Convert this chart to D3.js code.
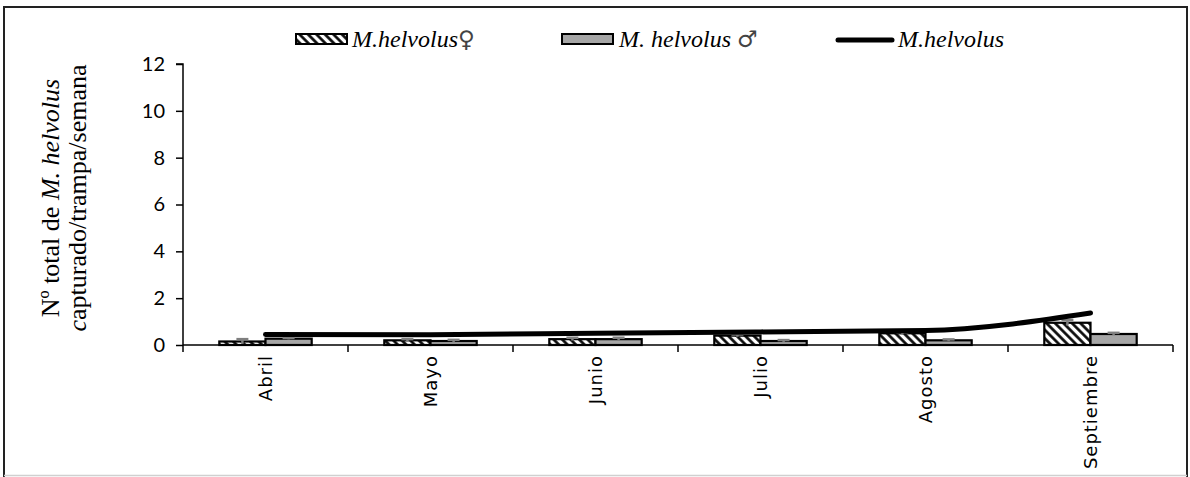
<!DOCTYPE html>
<html>
<head>
<meta charset="utf-8">
<script src="https://cdn.jsdelivr.net/npm/d3@7"></script>
<style>
  html, body { margin: 0; padding: 0; background: #fff; }
  svg { display: block; }
</style>
</head>
<body>
<svg id="chart" width="1190" height="477"></svg>
<script>
// ---- data ----
const categories = ["Abril", "Mayo", "Junio", "Julio", "Agosto", "Septiembre"];
const femaleValues = [0.15, 0.2, 0.25, 0.4, 0.5, 0.95];
const maleValues = [0.27, 0.17, 0.25, 0.17, 0.2, 0.47];
const femaleErrors = [0.1, 0.05, 0.06, 0.05, 0.05, 0.12];
const maleErrors = [0.03, 0.05, 0.06, 0.04, 0.04, 0.05];
const totalValues = [0.45, 0.44, 0.5, 0.56, 0.62, 1.37];
const yTicks = [0, 2, 4, 6, 8, 10, 12];
const seriesNames = ["M.helvolus\u2640", "M. helvolus \u2642", "M.helvolus"];

const svg = d3.select("#chart");

// frame
svg.append("path").attr("d", "M4,477 L4,7 L1187,7 L1187,477")
  .attr("fill", "none").attr("stroke", "#222").attr("stroke-width", 2);
svg.append("line").attr("x1", 4).attr("x2", 1187).attr("y1", 475.5).attr("y2", 475.5)
  .attr("stroke", "#d0d0d0").attr("stroke-width", 1.5);

// hatch pattern
const defs = svg.append("defs");
defs.append("pattern").attr("id", "hatch").attr("patternUnits", "userSpaceOnUse")
  .attr("width", 6).attr("height", 6).attr("patternTransform", "rotate(-45)")
  .call(p => {
    p.append("rect").attr("width", 6).attr("height", 6).attr("fill", "#fff");
    p.append("line").attr("x1", 1.5).attr("x2", 1.5).attr("y1", 0).attr("y2", 6)
      .attr("stroke", "#000").attr("stroke-width", 2.6);
  });

const pLeft = 183, pRight = 1173, pTop = 64, pBottom = 345;

const x = d3.scaleBand().domain(categories).range([pLeft, pRight])
  .paddingInner(0.44).paddingOuter(0.22);
const xSub = d3.scaleBand().domain(["f", "m"]).range([0, x.bandwidth()]);
const y = d3.scaleLinear().domain([0, 12]).range([pBottom, pTop]);

// y axis
const yAxis = svg.append("g").attr("transform", `translate(${pLeft},0)`)
  .call(d3.axisLeft(y).tickValues(yTicks).tickSize(7).tickPadding(11));
yAxis.selectAll("path, line").attr("stroke", "#000").attr("stroke-width", 1.5);
yAxis.select(".domain").attr("d", `M-7,${pTop}H0V${pBottom}`);
yAxis.selectAll("text").attr("font-family", "Lato, 'Open Sans', sans-serif")
  .attr("font-size", 20).attr("fill", "#000");

// x axis (labels at centers, ticks at boundaries)
const step = x.step();
const boundaries = categories.map(c => x(c) - (step - x.bandwidth()) / 2)
  .concat([x(categories[categories.length - 1]) + x.bandwidth() + (step - x.bandwidth()) / 2]);
const xg = svg.append("g");
xg.append("line").attr("x1", pLeft).attr("x2", pRight).attr("y1", pBottom).attr("y2", pBottom)
  .attr("stroke", "#000").attr("stroke-width", 1.5);
xg.selectAll("line.tk").data(boundaries).join("line").attr("class", "tk")
  .attr("x1", d => d).attr("x2", d => d).attr("y1", pBottom).attr("y2", pBottom + 7)
  .attr("stroke", "#000").attr("stroke-width", 1.5);
xg.selectAll("text").data(categories).join("text")
  .attr("transform", d => `translate(${x(d) + x.bandwidth() / 2},${pBottom + 10}) rotate(-90)`)
  .attr("text-anchor", "end").attr("dy", "0.35em")
  .attr("font-family", "'DejaVu Sans', sans-serif").attr("font-size", 18)
  .attr("letter-spacing", 1).attr("fill", "#000")
  .text(d => d);

// bars
const barData = categories.map((c, i) => [
  { c, k: "f", v: femaleValues[i], e: femaleErrors[i] },
  { c, k: "m", v: maleValues[i], e: maleErrors[i] }
]).flat();

svg.append("g").selectAll("rect").data(barData).join("rect")
  .attr("x", d => x(d.c) + xSub(d.k))
  .attr("width", xSub.bandwidth())
  .attr("y", d => y(d.v))
  .attr("height", d => y(0) - y(d.v))
  .attr("fill", d => d.k === "f" ? "url(#hatch)" : "#a6a6a6")
  .attr("stroke", "#000").attr("stroke-width", 2.2);

// error bars
const eg = svg.append("g").attr("stroke", "#7f7f7f").attr("stroke-width", 2.5);
eg.selectAll("line.v").data(barData).join("line").attr("class", "v")
  .attr("x1", d => x(d.c) + xSub(d.k) + xSub.bandwidth() / 2)
  .attr("x2", d => x(d.c) + xSub(d.k) + xSub.bandwidth() / 2)
  .attr("y1", d => y(Math.max(0, d.v - d.e)))
  .attr("y2", d => y(d.v + d.e));
eg.selectAll("line.c").data(barData).join("line").attr("class", "c")
  .attr("x1", d => x(d.c) + xSub(d.k) + xSub.bandwidth() / 2 - 6)
  .attr("x2", d => x(d.c) + xSub(d.k) + xSub.bandwidth() / 2 + 6)
  .attr("y1", d => y(d.v + d.e))
  .attr("y2", d => y(d.v + d.e));

// total line
const line = d3.line()
  .x((d, i) => x(categories[i]) + x.bandwidth() / 2)
  .y(d => y(d))
  .curve(d3.curveMonotoneX);
svg.append("path").datum(totalValues).attr("d", line)
  .attr("fill", "none").attr("stroke", "#000").attr("stroke-width", 5)
  .attr("stroke-linecap", "round");

// y axis title
const yt = svg.append("text")
  .attr("transform", "translate(0,198) rotate(-90)")
  .attr("text-anchor", "middle")
  .attr("font-family", "'Liberation Serif', 'Times New Roman', serif")
  .attr("font-size", 26).attr("fill", "#000");
yt.append("tspan").attr("x", 0).attr("y", 59).text("N\u00ba total de  ")
  .append("tspan").attr("font-style", "italic").text("M. helvolus");
const l2 = yt.append("tspan").attr("x", 0).attr("y", 86);
l2.append("tspan").attr("font-style", "italic").text("c");
l2.append("tspan").text("apturado/trampa/semana");

// legend
const lg = svg.append("g").attr("font-family", "'Liberation Serif', 'Times New Roman', serif")
  .attr("font-size", 24).attr("fill", "#000");
const legendX = [296, 562, 838];
lg.append("rect").attr("x", legendX[0]).attr("y", 34).attr("width", 51).attr("height", 10)
  .attr("fill", "url(#hatch)").attr("stroke", "#000").attr("stroke-width", 2);
lg.append("rect").attr("x", legendX[1]).attr("y", 34).attr("width", 51).attr("height", 10)
  .attr("fill", "#a6a6a6").attr("stroke", "#000").attr("stroke-width", 2);
lg.append("line").attr("x1", legendX[2]).attr("x2", legendX[2] + 54).attr("y1", 40).attr("y2", 40)
  .attr("stroke", "#000").attr("stroke-width", 5).attr("stroke-linecap", "round");

const t0 = lg.append("text").attr("x", legendX[0] + 56).attr("y", 47);
t0.append("tspan").attr("font-style", "italic").text(seriesNames[0].slice(0, -1));
t0.append("tspan").attr("font-family", "'DejaVu Sans', sans-serif").attr("font-size", 23)
  .attr("fill", "#444").text(seriesNames[0].slice(-1));
const t1 = lg.append("text").attr("x", legendX[1] + 57).attr("y", 47);
t1.append("tspan").attr("font-style", "italic").text(seriesNames[1].slice(0, -1));
t1.append("tspan").attr("font-family", "'DejaVu Sans', sans-serif").attr("font-size", 23)
  .attr("fill", "#444").text(seriesNames[1].slice(-1));
lg.append("text").attr("x", legendX[2] + 60).attr("y", 47).attr("font-style", "italic")
  .text(seriesNames[2]);
</script>
</body>
</html>
